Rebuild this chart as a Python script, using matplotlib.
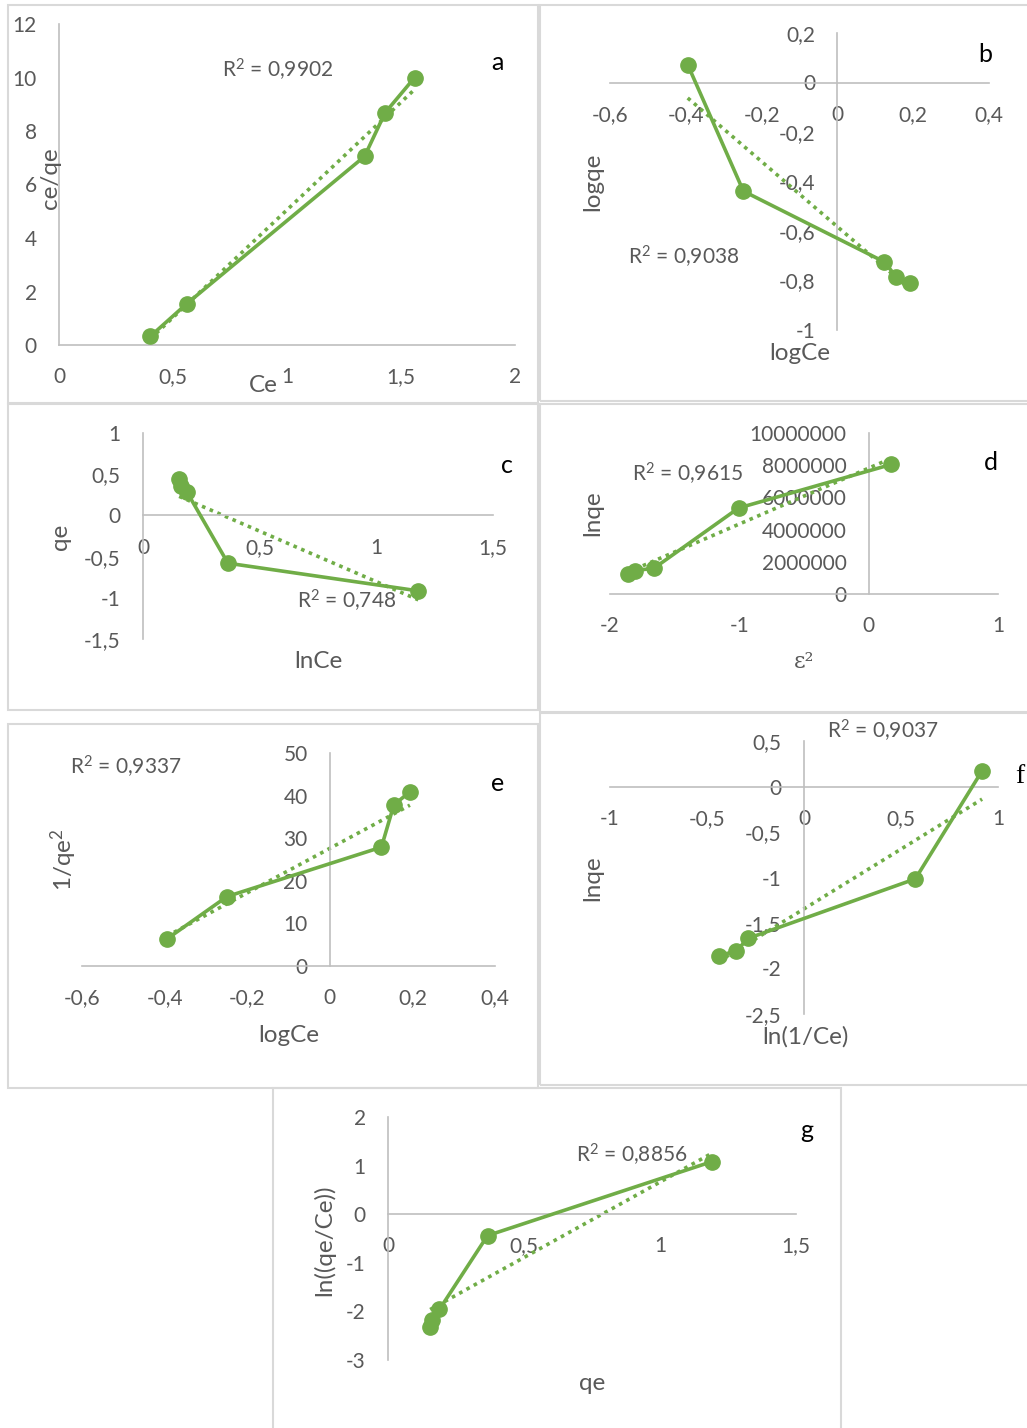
import numpy as np
import matplotlib
matplotlib.use("Agg")
import matplotlib.pyplot as plt
from matplotlib.ticker import FixedLocator, FuncFormatter
from matplotlib.patches import Rectangle

W, H = 1027, 1428
GREEN = "#70AD47"
AXIS_GRAY = "#BFBFBF"
TEXT_GRAY = "#595959"
BORDER = "#D9D9D9"

plt.rcParams["font.family"] = ["Lato", "DejaVu Sans"]
plt.rcParams["mathtext.fontset"] = "custom"
plt.rcParams["mathtext.rm"] = "Lato"
plt.rcParams["mathtext.it"] = "Lato"
plt.rcParams["mathtext.default"] = "rm"

# ---- data -------------------------------------------------------------
# a: Langmuir  (Ce vs Ce/qe)
a_x = [0.40, 0.56, 1.34, 1.43, 1.56]
a_y = [0.32, 1.54, 7.05, 8.68, 10.0]
a_xticks = [0, 0.5, 1, 1.5, 2]
a_yticks = [0, 2, 4, 6, 8, 10, 12]

# b: Freundlich (logCe vs logqe)
b_x = [-0.395, -0.248, 0.124, 0.155, 0.192]
b_y = [0.072, -0.439, -0.725, -0.785, -0.810]
b_xticks = [-0.6, -0.4, -0.2, 0, 0.2, 0.4]
b_yticks = [-1, -0.8, -0.6, -0.4, -0.2, 0, 0.2]

# c: Temkin
c_x = [0.155, 0.164, 0.188, 0.364, 1.18]
c_y = [0.445, 0.358, 0.285, -0.580, -0.916]
c_xticks = [0, 0.5, 1, 1.5]
c_yticks = [-1.5, -1, -0.5, 0, 0.5, 1]

# d: Dubinin-Radushkevich
d_x = [-1.864, -1.81, -1.66, -1.006, 0.176]
d_y = [1.25e6, 1.45e6, 1.60e6, 5.34e6, 8.05e6]
d_xticks = [-2, -1, 0, 1]
d_yticks = [0, 2000000, 4000000, 6000000, 8000000, 10000000]

# e: Harkins-Jura
e_x = [-0.395, -0.249, 0.125, 0.155, 0.194]
e_y = [6.3, 16.3, 27.9, 37.8, 40.9]
e_xticks = [-0.6, -0.4, -0.2, 0, 0.2, 0.4]
e_yticks = [0, 10, 20, 30, 40, 50]

# f: Halsey
f_x = [-0.44, -0.35, -0.287, 0.574, 0.918]
f_y = [-1.861, -1.807, -1.668, -1.015, 0.172]
f_xticks = [-1, -0.5, 0, 0.5, 1]
f_yticks = [-2.5, -2, -1.5, -1, -0.5, 0, 0.5]

# g: Elovich
g_x = [0.155, 0.163, 0.189, 0.366, 1.19]
g_y = [-2.32, -2.17, -1.96, -0.44, 1.08]
g_xticks = [0, 0.5, 1, 1.5]
g_yticks = [-3, -2, -1, 0, 1, 2]

r2_values = {"a": "0,9902", "b": "0,9038", "c": "0,748", "d": "0,9615",
             "e": "0,9337", "f": "0,9037", "g": "0,8856"}


def r2_label(key):
    return r"R$^{2}$ = " + r2_values[key]


def fmt(v, pos=None):
    if abs(v - round(v)) < 1e-9:
        return str(int(round(v)))
    return ("%g" % v).replace(".", ",")


fig = plt.figure(figsize=(W / 100, H / 100), dpi=100)
fig.patch.set_facecolor("white")

TITLE_SIZE = 17.5


def ftext(x, y, s, **kw):
    kw.setdefault("ha", "center")
    kw.setdefault("va", "center")
    kw.setdefault("color", TEXT_GRAY)
    kw.setdefault("fontsize", 15)
    fig.text(x / W, 1 - y / H, s, **kw)


def border(x0, y0, x1, y1):
    fig.patches.append(Rectangle((x0 / W, 1 - y1 / H), (x1 - x0) / W, (y1 - y0) / H,
                                 transform=fig.transFigure, fill=False,
                                 edgecolor=BORDER, lw=1.5))


def panel(xs, ys, xticks, yticks, xpx, ypx):
    xlim = (xticks[0], xticks[-1])
    ylim = (yticks[0], yticks[-1])
    rect = [xpx[0] / W, 1 - ypx[0] / H, (xpx[1] - xpx[0]) / W, (ypx[0] - ypx[1]) / H]
    ax = fig.add_axes(rect)
    ax.set_facecolor("none")
    ax.set_xlim(*xlim)
    ax.set_ylim(*ylim)
    for s in ("top", "right"):
        ax.spines[s].set_visible(False)
    for s in ("left", "bottom"):
        ax.spines[s].set_position(("data", 0))
        ax.spines[s].set_color(AXIS_GRAY)
        ax.spines[s].set_linewidth(1.2)
    ax.xaxis.set_major_locator(FixedLocator(xticks))
    ax.yaxis.set_major_locator(FixedLocator(yticks))
    ax.xaxis.set_major_formatter(FuncFormatter(fmt))
    ax.yaxis.set_major_formatter(FuncFormatter(fmt))
    ax.tick_params(length=0, pad=16, labelsize=15, labelcolor=TEXT_GRAY)
    # linear trendline (round dots)
    k, b0 = np.polyfit(xs, ys, 1)
    tx = np.array([min(xs), max(xs)])
    ax.plot(tx, k * tx + b0, color=GREEN, lw=2.6, ls=(0, (1, 1.3)), clip_on=False, zorder=2)
    ax.plot(xs, ys, color=GREEN, lw=2.6, marker="o", ms=11, mec=GREEN, mfc=GREEN,
            clip_on=False, zorder=3)
    return ax


# a
border(8, 5, 538, 403)
panel(a_x, a_y, a_xticks, a_yticks, (59, 515), (345, 24))
ftext(263, 385, "Ce", fontsize=TITLE_SIZE)
ftext(51, 178, "ce/qe", rotation=90, fontsize=TITLE_SIZE)
ftext(497, 62, "a", color="black", fontsize=18)
ftext(278, 70, r2_label("a"))

# b
border(540, 5, 1030, 401)
panel(b_x, b_y, b_xticks, b_yticks, (610, 989), (330, 33))
ftext(800, 353, "logCe", fontsize=TITLE_SIZE)
ftext(593, 182, "logqe", rotation=90, fontsize=TITLE_SIZE)
ftext(985, 55, "b", color="black", fontsize=18)
ftext(684, 257, r2_label("b"))

# c
border(8, 404, 538, 710)
panel(c_x, c_y, c_xticks, c_yticks, (143, 493), (639, 433))
ftext(318, 661, "lnCe", fontsize=TITLE_SIZE)
ftext(61, 537, "qe", rotation=90, fontsize=TITLE_SIZE)
ftext(507, 466, "c", color="black", fontsize=18)
ftext(347, 601, r2_label("c"))

# d
border(540, 404, 1030, 712)
panel(d_x, d_y, d_xticks, d_yticks, (610, 998), (594, 433))
ftext(804, 662, "ε²", fontsize=16, family=["DejaVu Serif"])
ftext(593, 513, "lnqe", rotation=90, fontsize=TITLE_SIZE)
ftext(991, 462, "d", color="black", fontsize=18)
ftext(688, 474, r2_label("d"))

# e
border(8, 724, 538, 1088)
panel(e_x, e_y, e_xticks, e_yticks, (82, 495), (966, 753))
ftext(289, 1036, "logCe", fontsize=TITLE_SIZE)
ftext(64, 860, r"1/qe$^{2}$", rotation=90, fontsize=TITLE_SIZE)
ftext(498, 783, "e", color="black", fontsize=18)
ftext(126, 767, r2_label("e"))

# f
border(540, 713, 1030, 1085)
panel(f_x, f_y, f_xticks, f_yticks, (610, 998), (1014, 741))
ftext(805, 1037, "ln(1/Ce)", fontsize=TITLE_SIZE)
ftext(593, 878, "lnqe", rotation=90, fontsize=TITLE_SIZE)
ftext(1020, 777, "f", color="black", fontsize=20, family=["Liberation Serif"])
ftext(883, 731, r2_label("f"))

# g
border(273, 1088, 841, 1430)
panel(g_x, g_y, g_xticks, g_yticks, (388, 796), (1360, 1117))
ftext(592, 1383, "qe", fontsize=TITLE_SIZE)
ftext(324, 1240, "ln((qe/Ce))", rotation=90, fontsize=TITLE_SIZE)
ftext(807, 1131, "g", color="black", fontsize=18)
ftext(632, 1155, r2_label("g"))

fig.savefig("out.png", dpi=100, facecolor="white")
